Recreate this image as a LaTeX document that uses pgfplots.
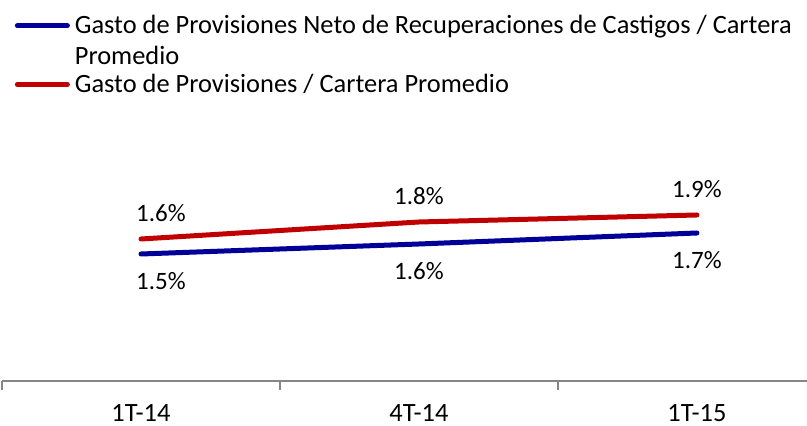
\documentclass[border=0pt]{standalone}
\usepackage{fontspec}
\setmainfont{Carlito}
\usepackage{pgfplots}
\usepackage{pgfplotstable}
\pgfplotsset{compat=1.18}
\definecolor{provblue}{RGB}{0,0,153}
\definecolor{provred}{RGB}{192,0,0}
\definecolor{axisgray}{RGB}{134,134,134}

% legend line raised to the first of two text lines
\pgfplotsset{
  raised legend/.style={legend image code/.code={\path[draw=none] (0pt,-8.65pt) -- (0pt,8.65pt);
    \draw[##1] (1.25pt,7.75pt) -- (26.25pt,7.75pt);}},
}

% x: 0 = 1T-14, 1 = 4T-14, 2 = 1T-15
\pgfplotstableread{
x y lab
0 1.47 1.5
1 1.57 1.6
2 1.68 1.7
}\neto
\pgfplotstableread{
x y lab
0 1.62 1.6
1 1.79 1.8
2 1.86 1.9
}\bruto

\begin{document}
\begin{tikzpicture}
\begin{axis}[
  at={(0,0)}, anchor=south west,
  scale only axis, width=402.5pt, height=135pt,
  xmin=-0.5, xmax=2.396, ymin=0.2, ymax=2.9,
  axis x line=bottom, axis y line=none,
  x axis line style={-, draw=axisgray, line width=0.75pt},
  xtick={0,1,2}, xticklabels={1T-14,4T-14,1T-15},
  major tick length=0pt,
  minor xtick={-0.5,0.5,1.5}, minor tick length=4.5pt, tick align=outside,
  tick style={draw=axisgray, line width=0.75pt},
  xticklabel style={anchor=center, yshift=-16pt, font=\fontsize{13.2}{15}\selectfont},
  clip=false,
  legend style={at={(axis description cs:0.0155,1.356)}, anchor=north west,
    draw=none, fill=none, inner sep=0pt, row sep=0pt, column sep=2.5pt,
    font=\fontsize{13.2}{15.25}\selectfont,
    nodes={inner sep=0pt}, cells={align=left}},
  legend cell align=left,
  legend image code/.code={\path[draw=none] (0pt,-8.65pt) -- (0pt,8.65pt);
    \draw[#1] (1.25pt,0pt) -- (26.25pt,0pt);},
  nodes near coords={\pgfplotspointmeta\%},
  point meta=explicit symbolic,
  every node near coord/.append style={font=\fontsize{12.5}{14}\selectfont, text=black, anchor=center},
]
\addplot[provblue, line width=2.5pt, line cap=round, raised legend,
  every node near coord/.append style={yshift=-13.5pt},
  coordinate style/.condition={x<0.5}{xshift=10pt}]
  table[x=x, y=y, meta=lab] {\neto};
\addlegendentry{Gasto de Provisiones Neto de Recuperaciones de Castigos / Cartera\\Promedio}
\addplot[provred, line width=2.5pt, line cap=round,
  every node near coord/.append style={yshift=13pt},
  coordinate style/.condition={x<0.5}{xshift=10pt}]
  table[x=x, y=y, meta=lab] {\bruto};
\addlegendentry{Gasto de Provisiones / Cartera Promedio}
\end{axis}
\pgfresetboundingbox
\path[use as bounding box] (-1pt,-22.5pt) rectangle (402.5pt,190.5pt);
\end{tikzpicture}
\end{document}
